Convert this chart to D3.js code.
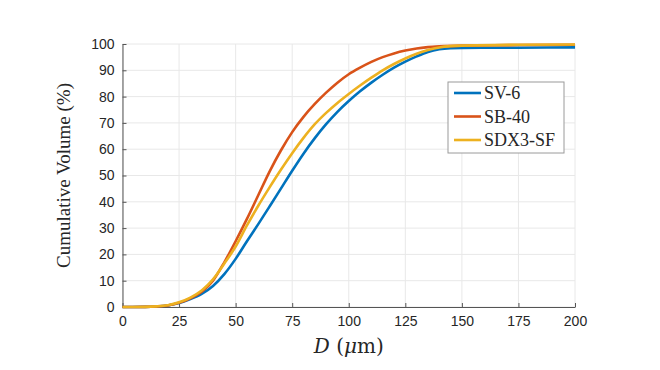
<!DOCTYPE html>
<html>
<head>
<meta charset="utf-8">
<script src="https://cdn.jsdelivr.net/npm/d3@7"></script>
<style>
  body { margin: 0; background: #fff; }
  .grid-lines line { stroke: #e8e8e8; stroke-width: 1; }
  .tick text { font-family: "Liberation Sans", Arial, sans-serif; font-size: 14px; fill: #262626; }
</style>
</head>
<body>
<div id="chart"></div>
<script>
// particle size (um) and cumulative volume (%)
const sv6_D = [0, 10, 15, 20, 25, 30, 35, 40, 45, 50, 55, 60, 65, 70, 75, 80, 85, 90, 95, 100, 105, 110, 115, 120, 125, 130, 135, 140, 145, 150, 175, 200]
const sv6_V = [0, 0.04, 0.2, 0.6, 1.5, 3, 5, 8, 12.5, 18.3, 25, 31.5, 38.2, 45, 51.8, 58.3, 64.2, 69.5, 74.2, 78.3, 82, 85.3, 88.3, 91, 93.3, 95.3, 97, 98, 98.4, 98.5, 98.6, 98.7]

const sb40_D = [0, 10, 15, 20, 25, 30, 35, 40, 45, 50, 55, 60, 65, 70, 75, 80, 85, 90, 95, 100, 105, 110, 115, 120, 125, 130, 135, 140, 150, 175, 200]
const sb40_V = [0, 0.05, 0.2, 0.6, 1.6, 3.3, 5.8, 10, 17, 25, 33.5, 42.5, 51.5, 59.5, 66.5, 72.3, 77.2, 81.5, 85.3, 88.5, 91, 93.2, 95, 96.4, 97.5, 98.3, 98.8, 99.1, 99.4, 99.6, 99.7]

const sdx3_D = [0, 10, 15, 20, 25, 30, 35, 40, 45, 50, 55, 60, 65, 70, 75, 80, 85, 90, 95, 100, 105, 110, 115, 120, 125, 130, 135, 140, 145, 150, 175, 200]
const sdx3_V = [0, 0.05, 0.25, 0.7, 1.8, 3.6, 6.3, 10.5, 16.5, 23, 31, 38.5, 45.5, 52.2, 58.5, 64.3, 69.5, 73.8, 77.6, 81, 84.2, 87.2, 90, 92.4, 94.5, 96.3, 97.7, 98.7, 99.2, 99.4, 99.7, 99.8]

const seriesNames = ['SV-6', 'SB-40', 'SDX3-SF']
const xTicks = [0, 25, 50, 75, 100, 125, 150, 175, 200]
const yTicks = [0, 10, 20, 30, 40, 50, 60, 70, 80, 90, 100]

const width = 660
const height = 370
const margins = { top: 44, right: 85, bottom: 63, left: 122.5 }
const color = ['#0072BD', '#D95319', '#EDB120']

const svg = d3.select('#chart').append('svg')
    .attr('width', width)
    .attr('height', height)

const xScale = d3.scaleLinear().domain([0, 200]).range([margins.left, width - margins.right])
const yScale = d3.scaleLinear().domain([0, 100]).range([height - margins.bottom, margins.top])

// grid
svg.append('g').attr('class', 'grid-lines')
    .selectAll('line').data(xTicks).join('line')
    .attr('x1', d => xScale(d)).attr('x2', d => xScale(d))
    .attr('y1', yScale(0)).attr('y2', yScale(100))
svg.append('g').attr('class', 'grid-lines')
    .selectAll('line').data(yTicks).join('line')
    .attr('x1', xScale(0)).attr('x2', xScale(200))
    .attr('y1', d => yScale(d)).attr('y2', d => yScale(d))

// axes, ticks pointing inward like matlab
svg.append('g')
    .attr('transform', 'translate(0,' + yScale(0) + ')')
    .call(d3.axisBottom(xScale).tickValues(xTicks).tickSizeInner(-4).tickSizeOuter(0).tickPadding(9))
svg.append('g')
    .attr('transform', 'translate(' + xScale(0) + ',0)')
    .call(d3.axisLeft(yScale).tickValues(yTicks).tickSizeInner(-4).tickSizeOuter(0).tickPadding(8))
svg.selectAll('.domain, .tick line').attr('stroke', '#555')

// curves
const data = [
    sv6_D.map((d, i) => ({ x: d, y: sv6_V[i] })),
    sb40_D.map((d, i) => ({ x: d, y: sb40_V[i] })),
    sdx3_D.map((d, i) => ({ x: d, y: sdx3_V[i] }))
]
const lineFun = d3.line()
    .curve(d3.curveMonotoneX)
    .x(d => xScale(d.x))
    .y(d => yScale(d.y))

data.forEach((dt, i) => {
    svg.append('path')
        .datum(dt)
        .attr('d', lineFun)
        .attr('fill', 'none')
        .attr('stroke', color[i])
        .attr('stroke-width', 2.6)
        .attr('stroke-linejoin', 'round')
})

// axis labels
const xLabel = svg.append('text')
    .attr('x', (xScale(0) + xScale(200)) / 2)
    .attr('y', 353)
    .attr('text-anchor', 'middle')
    .style('font-family', '"DejaVu Serif", "Liberation Serif", serif')
    .style('font-size', '20px')
    .attr('fill', '#262626')
xLabel.append('tspan').style('font-style', 'italic').text('D')
xLabel.append('tspan').text(' (')
xLabel.append('tspan').style('font-style', 'italic').text('μ')
xLabel.append('tspan').text('m)')

svg.append('text')
    .attr('transform', 'translate(70,' + ((yScale(0) + yScale(100)) / 2) + ') rotate(-90)')
    .attr('text-anchor', 'middle')
    .style('font-family', '"Liberation Serif", "DejaVu Serif", serif')
    .style('font-size', '19px')
    .attr('fill', '#262626')
    .text('Cumulative Volume (%)')

// legend
const legend = svg.append('g').attr('transform', 'translate(448,82)')
legend.append('rect')
    .attr('width', 116).attr('height', 71)
    .attr('fill', '#fff').attr('stroke', '#9a9a9a').attr('stroke-width', 1)
seriesNames.forEach((name, i) => {
    const yy = 11 + i * 23.5
    legend.append('line')
        .attr('x1', 6).attr('x2', 33)
        .attr('y1', yy).attr('y2', yy)
        .attr('stroke', color[i]).attr('stroke-width', 2.6)
    legend.append('text')
        .attr('x', 36).attr('y', yy + 6)
        .style('font-family', '"Liberation Serif", "DejaVu Serif", serif')
        .style('font-size', '18px')
        .attr('fill', '#262626')
        .text(name)
})
</script>
</body>
</html>
